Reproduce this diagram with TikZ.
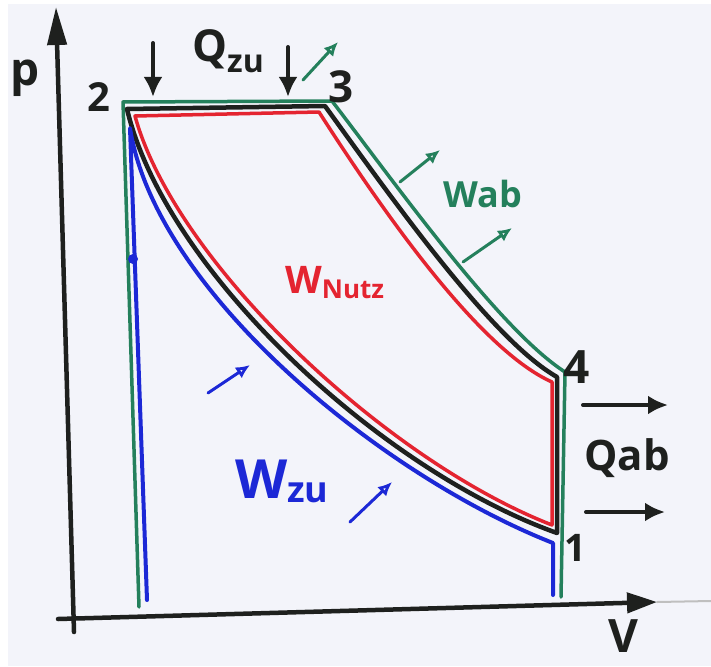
\documentclass[tikz,border=0pt]{standalone}
\usepackage{fontspec}
\setsansfont{Open Sans}
\usetikzlibrary{arrows.meta}
\definecolor{pengreen}{RGB}{36,128,92}
\definecolor{penred}{RGB}{228,36,48}
\definecolor{penblue}{RGB}{28,40,214}
\definecolor{penblack}{RGB}{30,32,30}
\definecolor{paper}{RGB}{243,244,250}
\newcommand{\fsz}[1]{\fontsize{#1}{#1}\selectfont}

\begin{document}
\begin{tikzpicture}[x=1pt,y=-1pt,line cap=round,line join=round,font=\sffamily\bfseries,
  axis/.style={penblack,line width=4.5pt},
  lbl/.style={inner sep=0pt,penblack},
  heat/.style={penblack,line width=4pt,-{Latex[length=20pt,width=19pt]}},
  work/.style={line width=3pt,-{Latex[open,length=14pt,width=13pt]}}]
\useasboundingbox (0,0) rectangle (711,666);
\fill[white] (0,0) rectangle (711,666);
\fill[paper] (8,4) rectangle (711,666);
\coordinate (p0) at (74,632);
\coordinate (p1) at (56,7);
\coordinate (v0) at (58,619);
\coordinate (v1) at (657,602);
\coordinate (v2) at (711,601);
\draw[gray!50,line width=2pt] (v1) -- (v2);
\draw[axis,-{Triangle[length=38pt,width=19pt]}] (p0) -- (p1);
\draw[axis,-{Triangle[length=30pt,width=20pt]}] (v0) -- (v1);
\draw[pengreen,line width=3.5pt] (139,607) -- (123,102) -- (332,101) .. controls (400,190) and (500,330) .. (565,372) -- (561,597);
\draw[penblack,line width=4.5pt] (127,109) -- (325,106) .. controls (393,200) and (492,340) .. (557,377) -- (557,533) .. controls (380,470) and (165,270) .. (127,109) -- cycle;
\draw[penred,line width=3.5pt] (135,116) -- (319,112) .. controls (385,215) and (480,350) .. (552,382) -- (552,525) .. controls (385,460) and (175,262) .. (135,116) -- cycle;
\draw[penblue,line width=4pt] (147,600) -- (130,128) .. controls (155,290) and (380,475) .. (553,543) -- (553,595);
\fill[penblue] (133,259) circle (5);
\foreach \xa/\ya/\xb/\yb in {153/43/153/97, 288/47/288/97, 583/405/668/405, 586/512/665/512}
  \draw[heat] (\xa,\ya) -- (\xb,\yb);
\foreach \xa/\ya/\xb/\yb/\col in {303/80/338/42/pengreen, 400/182/440/150/pengreen, 463/262/512/228/pengreen, 208/393/250/365/penblue, 350/522/392/482/penblue}
  \draw[work,\col] (\xa,\ya) -- (\xb,\yb);
\foreach \x/\y/\s/\name/\txt in {25/78/46/plbl/p, 623/636/46/vlbl/V, 99/97/40/pt2/2, 341/87/44/pt3/3, 577/367/46/pt4/4, 575/548/38/pt1/1}
  \node[lbl,font=\sffamily\bfseries\fsz{\s}] (\name) at (\x,\y) {\txt};
\node[lbl,anchor=base west,font=\sffamily\bfseries\fsz{44}] (qzu) at (192,62) {Q\raisebox{-11pt}{\fsz{32}zu}};
\node[lbl,anchor=base west,font=\sffamily\bfseries\fsz{42}] (qab) at (584,470) {Qab};
\node[lbl,anchor=base west,pengreen,font=\sffamily\bfseries\fsz{36}] (wab) at (443,207) {Wab};
\node[lbl,anchor=base west,penblue,font=\sffamily\bfseries\fsz{54}] (wzu) at (235,498) {W\raisebox{-4pt}{\fsz{36}zu}};
\node[lbl,anchor=base west,penred,font=\sffamily\bfseries\fsz{38}] (wnutz) at (285,293) {W\raisebox{-5pt}{\fsz{26}Nutz}};
\end{tikzpicture}
\end{document}
